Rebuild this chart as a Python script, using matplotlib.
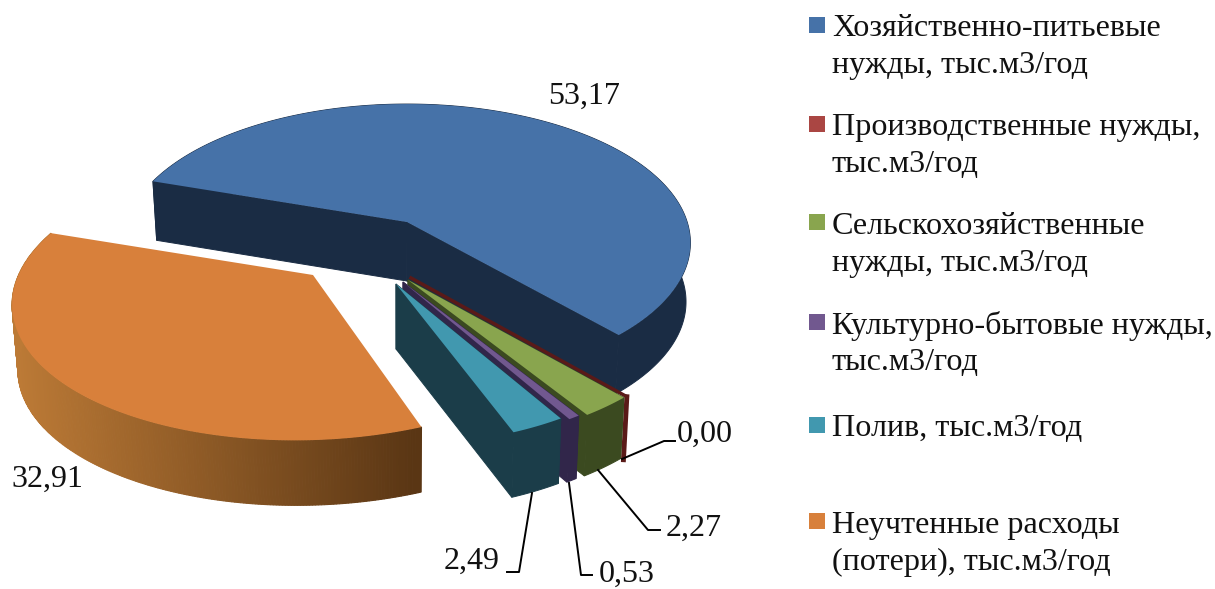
import numpy as np
import matplotlib
matplotlib.use("Agg")
import matplotlib.pyplot as plt
from matplotlib.colors import to_rgb

plt.rcParams['font.family'] = ['Liberation Serif', 'DejaVu Serif']

# data
categories = ["Хозяйственно-питьевые\nнужды, тыс.м3/год",
              "Производственные нужды,\nтыс.м3/год",
              "Сельскохозяйственные\nнужды, тыс.м3/год",
              "Культурно-бытовые нужды,\nтыс.м3/год",
              "Полив, тыс.м3/год",
              "Неучтенные расходы\n(потери), тыс.м3/год"]
values = [53.17, 0.00, 2.27, 0.53, 2.49, 32.91]
value_labels = ["53,17", "0,00", "2,27", "0,53", "2,49", "32,91"]

top_colors = ["#4672A8", "#AA4643", "#89A54E", "#71588F", "#4198AF", "#D8803B"]
side_colors = ["#1A2C44", "#5A1A18", "#3B4A20", "#31264A", "#1B3D49", "#B97A35"]

# view
S, T, K = 272.0, 137.0, 0.15
START = 161.7
depth = [59, 63, 61, 63, 65, 65]
apex = [(407, 222), (411, 278), (408, 280), (403, 282), (396, 284), (313, 275)]
world_off = [(0, 0), (0, 0), (0, 0), (0, 0), (0, 0), (-0.34, -0.2)]
scale = [(1.03, 0.99), (1.05, 1.04), (1.05, 1.03), (1.03, 1.02), (1.02, 1), (1.05, 0.96)]


def project(X, Y):
    den = 1 + K * Y
    return S * X / den, -T * Y / den


def down(x, y, d):
    # bottom edge, verticals lean to the middle a bit
    return x + (400 - x) * 0.015, y + d


fig = plt.figure(figsize=(12.15, 5.89), dpi=100)
ax = fig.add_axes([0, 0, 1, 1])
ax.set_xlim(0, 1215)
ax.set_ylim(589, 0)
ax.axis("off")

total = sum(values)
angle = START
for i, v in enumerate(values):
    a0 = angle
    a1 = angle - v / total * 360
    angle = a1
    th = np.radians(np.linspace(a0, a1, max(int(abs(a0 - a1)) * 2, 2)))
    ox, oy = world_off[i]
    bx, by = project(ox, oy)
    px, py = project(ox + np.cos(th), oy + np.sin(th))
    xs = apex[i][0] + (px - bx) * scale[i][0]
    ys = apex[i][1] + (py - by) * scale[i][1]
    ax0, ay0 = apex[i]
    x2, y2 = down(xs, ys, depth[i])
    ax2, ay2 = down(ax0, ay0, depth[i])

    if v == 0:
        # empty slice, only a thin edge is seen
        ax.plot([ax0, xs[0]], [ay0, ys[0]], color=side_colors[i], lw=2.5, zorder=2 + i)
        ax.plot([xs[0], x2[0]], [ys[0], y2[0]], color=side_colors[i], lw=3.5, zorder=2 + i)
        continue

    if i == 5:
        # side of the orange slice goes dark from left to right
        c0 = np.array(to_rgb("#BC7A36"))
        c1 = np.array(to_rgb("#5A3614"))
        for j in range(len(xs) - 1):
            t = np.clip((xs[j] - 15) / 400, 0, 1)
            col = c0 + (c1 - c0) * t
            ax.fill([xs[j], xs[j + 1], x2[j + 1], x2[j]], [ys[j], ys[j + 1], y2[j + 1], y2[j]],
                    facecolor=col, edgecolor=col, lw=0.8, zorder=2 + i)
    else:
        c = side_colors[i]
        ax.fill([ax0, xs[0], x2[0], ax2], [ay0, ys[0], y2[0], ay2], facecolor=c, edgecolor=c, lw=0.7, zorder=2 + i)
        ax.fill([ax0, xs[-1], x2[-1], ax2], [ay0, ys[-1], y2[-1], ay2], facecolor=c, edgecolor=c, lw=0.7, zorder=2 + i)
        ax.fill(np.r_[xs, x2[::-1]], np.r_[ys, y2[::-1]], facecolor=c, edgecolor=c, lw=0.7, zorder=2 + i)

    ax.fill(np.r_[ax0, xs], np.r_[ay0, ys], color=top_colors[i], lw=0, zorder=2 + i)

# value labels
ax.text(584, 96, value_labels[0], fontsize=23, ha="center", va="center", color="#111111")
ax.text(47, 479, value_labels[5], fontsize=23, ha="center", va="center", color="#111111")
ax.text(705, 434, value_labels[1], fontsize=23, ha="center", va="center", color="#111111")
ax.text(694, 528, value_labels[2], fontsize=23, ha="center", va="center", color="#111111")
ax.text(627, 574, value_labels[3], fontsize=23, ha="center", va="center", color="#111111")
ax.text(472, 561, value_labels[4], fontsize=23, ha="center", va="center", color="#111111")

# leader lines
ax.plot([622, 664, 675], [459, 441, 441], color="black", lw=1.4, zorder=10)
ax.plot([598, 648, 660], [470, 530, 530], color="black", lw=1.4, zorder=10)
ax.plot([569, 581, 592], [483, 575, 575], color="black", lw=1.4, zorder=10)
ax.plot([532, 519, 507], [493, 572, 572], color="black", lw=1.4, zorder=10)

# legend
legend_y = [25, 124, 222, 322, 425, 521]
for i, name in enumerate(categories):
    ax.fill([809, 825, 825, 809], [legend_y[i] - 8, legend_y[i] - 8, legend_y[i] + 8, legend_y[i] + 8],
            color=top_colors[i], lw=0)
    for n, line in enumerate(name.split("\n")):
        ax.text(832, legend_y[i] + 4 + n * 37, line, fontsize=23.1, ha="left", va="center", color="#111111")

plt.savefig("out.png", dpi=100)
